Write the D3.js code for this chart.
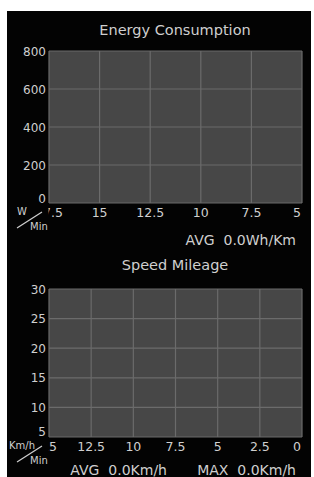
<!DOCTYPE html>
<html>
<head>
<meta charset="utf-8">
<script src="https://cdn.jsdelivr.net/npm/d3@7"></script>
<style>
  body { margin: 0; background: #fff; }
  svg { display: block; }
  text { font-family: "DejaVu Sans", sans-serif; fill: #cfcfcf; }
</style>
</head>
<body>
<div id="workspace"></div>
<script>
// data
var energyYTicks = [0, 200, 400, 600, 800];
var energyXTicks = [17.5, 15, 12.5, 10, 7.5, 5];
var energyValues = [];   // no samples recorded
var speedYTicks = [5, 10, 15, 20, 25, 30];
var speedXTicks = [15, 12.5, 10, 7.5, 5, 2.5, 0];
var speedValues = [];
var avgEnergy = 0.0;
var avgSpeed = 0.0;
var maxSpeed = 0.0;

var W = 314, H = 477;
var svg = d3.select("#workspace").append("svg")
            .attr("width", W)
            .attr("height", H);

svg.append("rect")
   .attr("x", 7).attr("y", 11)
   .attr("width", 304).attr("height", H - 11)
   .attr("fill", "#030303");

var defs = svg.append("defs");

function panel(cfg) {
    var x = d3.scaleLinear().domain(cfg.xDomain).range([49, 302]);
    var y = d3.scaleLinear().domain(cfg.yDomain).range([cfg.bottom, cfg.top]);
    var g = svg.append("g");

    g.append("text")
     .attr("x", 175).attr("y", cfg.titleY)
     .attr("text-anchor", "middle")
     .attr("font-size", "14.5px")
     .text(cfg.title);

    g.append("rect")
     .attr("x", x.range()[0]).attr("y", cfg.top)
     .attr("width", x.range()[1] - x.range()[0])
     .attr("height", cfg.bottom - cfg.top)
     .attr("fill", "#474747");

    // grid
    g.selectAll(".vg").data(cfg.xTicks).enter().append("line")
     .attr("x1", d => x(d)).attr("x2", d => x(d))
     .attr("y1", cfg.top).attr("y2", cfg.bottom)
     .attr("stroke", "#6b6b6b").attr("stroke-width", 1.2);
    g.selectAll(".hg").data(cfg.yTicks).enter().append("line")
     .attr("x1", 49).attr("x2", 302)
     .attr("y1", d => y(d)).attr("y2", d => y(d))
     .attr("stroke", "#6b6b6b").attr("stroke-width", 1.2);

    // data line (empty)
    var line = d3.line().x(d => x(d[0])).y(d => y(d[1]));
    g.append("path").datum(cfg.values)
     .attr("d", line).attr("fill", "none").attr("stroke", "#3fa9f5");

    // y labels, the lowest one lifted a little
    g.selectAll(".yl").data(cfg.yTicks).enter().append("text")
     .attr("x", 46).attr("y", (d, i) => y(d) + 4.5 - (i == 0 ? cfg.lift : 0))
     .attr("text-anchor", "end")
     .attr("font-size", "12px")
     .text(d => d);

    // x labels, clipped at the left edge
    defs.append("clipPath").attr("id", cfg.id)
        .append("rect").attr("x", 48.5).attr("y", cfg.bottom)
        .attr("width", 260).attr("height", 20);
    var n = cfg.xTicks.length;
    g.append("g").attr("clip-path", "url(#" + cfg.id + ")")
     .selectAll("text").data(cfg.xTicks).enter().append("text")
     .attr("x", (d, i) => i == n - 1 ? x(d) - 1 : x(d))
     .attr("y", cfg.bottom + 14)
     .attr("text-anchor", (d, i) => i == n - 1 ? "end" : "middle")
     .attr("font-size", "12.5px")
     .text(d => d);

    // unit mark
    g.append("text").attr("x", cfg.unitX).attr("y", cfg.bottom + 12)
     .attr("font-size", "10px").text(cfg.unit);
    g.append("line")
     .attr("x1", 17).attr("y1", cfg.bottom + 25)
     .attr("x2", 42).attr("y2", cfg.bottom + 9)
     .attr("stroke", "#cfcfcf").attr("stroke-width", 1.2);
    g.append("text").attr("x", 30).attr("y", cfg.bottom + 27)
     .attr("font-size", "10px").text("Min");

    cfg.stats.forEach(s => {
        g.append("text").attr("x", s.x).attr("y", s.y)
         .attr("text-anchor", "end")
         .attr("font-size", "14px")
         .attr("xml:space", "preserve")
         .text(s.text);
    });
}

panel({
    id: "clipE", title: "Energy Consumption", titleY: 35,
    xDomain: [17.5, 5], yDomain: [0, 800], top: 51, bottom: 203,
    xTicks: energyXTicks, yTicks: energyYTicks, values: energyValues,
    unit: "W", unitX: 17, lift: 5,
    stats: [{ x: 296, y: 245, text: "AVG  " + avgEnergy.toFixed(1) + "Wh/Km" }]
});

panel({
    id: "clipS", title: "Speed Mileage", titleY: 270,
    xDomain: [15, 0], yDomain: [5, 30], top: 289, bottom: 437,
    xTicks: speedXTicks, yTicks: speedYTicks, values: speedValues,
    unit: "Km/h", unitX: 9, lift: 6,
    stats: [{ x: 167, y: 475, text: "AVG  " + avgSpeed.toFixed(1) + "Km/h" },
            { x: 296, y: 475, text: "MAX  " + maxSpeed.toFixed(1) + "Km/h" }]
});
</script>
</body>
</html>
